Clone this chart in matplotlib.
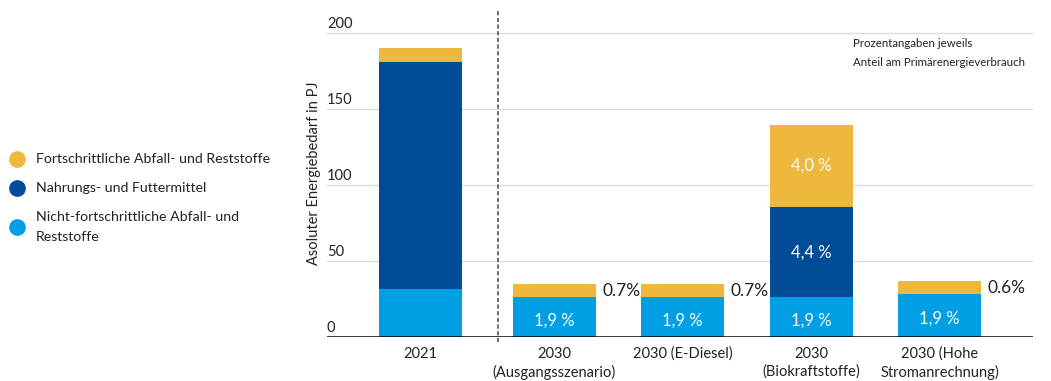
import matplotlib.pyplot as plt
from matplotlib.lines import Line2D
import numpy as np

plt.rcParams['font.family'] = ['Lato', 'DejaVu Sans']

categories = ['2021', '2030\n(Ausgangsszenario)', '2030 (E-Diesel)',
              '2030\n(Biokraftstoffe)', '2030 (Hohe\nStromanrechnung)']
nicht_fortschrittlich = [31.5, 26, 26, 26, 28]
nahrung_futter = [149.5, 0, 0, 59.5, 0]
fortschrittlich = [9, 9, 9, 54, 9]

# share of primary energy, printed on the segments
label_nicht = ['', '1,9 %', '1,9 %', '1,9 %', '1,9 %']
label_nahrung = ['', '', '', '4,4 %', '']
label_fort_inside = ['', '', '', '4,0 %', '']
label_fort_side = ['', '0.7%', '0.7%', '', '0.6%']

yticks = [0, 50, 100, 150, 200]

c_yellow = '#EDB83D'
c_dark = '#004C97'
c_light = '#009FE3'
c_text = '#222222'

fig = plt.figure(figsize=(10.51, 3.81), dpi=100)
ax = fig.add_axes([0.311, 0.1155, 0.672, 0.8585])

# scenario bars sit a little further from the 2021 bar
x = np.arange(len(categories), dtype=float)
x[1:] += 0.04
w = 0.646
b1 = np.array(nicht_fortschrittlich)
b2 = b1 + np.array(nahrung_futter)

ax.bar(x, nicht_fortschrittlich, w, color=c_light, zorder=3)
ax.bar(x, nahrung_futter, w, bottom=b1, color=c_dark, zorder=3)
ax.bar(x, fortschrittlich, w, bottom=b2, color=c_yellow, zorder=3)

for i in range(len(x)):
    if label_nicht[i]:
        ax.text(x[i], b1[i] / 2 - 2, label_nicht[i], ha='center', va='center',
                color='white', fontsize=12)
    if label_nahrung[i]:
        ax.text(x[i], b1[i] + nahrung_futter[i] / 2, label_nahrung[i],
                ha='center', va='center', color='white', fontsize=12)
    if label_fort_inside[i]:
        ax.text(x[i], b2[i] + fortschrittlich[i] / 2, label_fort_inside[i],
                ha='center', va='center', color='white', fontsize=12)
    if label_fort_side[i]:
        ax.text(x[i] + w / 2 + 0.05, b2[i] + fortschrittlich[i] - 4.5,
                label_fort_side[i], ha='left', va='center',
                color=c_text, fontsize=12.5)

ax.set_xlim(-0.728, 4.766)
ax.set_ylim(0, 215)

# gridlines with labels sitting above them on the left
for t in yticks[1:]:
    ax.axhline(t, color='#dddddd', lw=1, zorder=1)
for t in yticks:
    ax.text(-0.728, t + 6, str(t), ha='left', va='center',
            color=c_text, fontsize=10.5)
ax.axhline(0, color='black', lw=1.8, zorder=4)

# separator between actual year and scenarios
ax.plot([0.6, 0.6], [-3.5, 215], ls=(0, (2.5, 1.5)), color='#555555',
        lw=1.2, clip_on=False, zorder=2)

ax.set_yticks([])
ax.set_xticks(x)
ax.set_xticklabels(categories, fontsize=10.5, color=c_text, linespacing=1.35)
ax.tick_params(axis='x', length=0, pad=7)
for s in ax.spines.values():
    s.set_visible(False)

ax.set_ylabel('Asoluter Energiebedarf in PJ', fontsize=10.5, color=c_text,
              labelpad=4)

ax.text(0.745, 0.868, 'Prozentangaben jeweils\nAnteil am Primärenergieverbrauch',
        transform=ax.transAxes, ha='left', va='center', fontsize=8.3,
        color=c_text, linespacing=1.9)

handles = [
    Line2D([], [], marker='o', ls='', color=c_yellow, markersize=11),
    Line2D([], [], marker='o', ls='', color=c_dark, markersize=11),
    Line2D([], [], marker='o', ls='', color=c_light, markersize=11),
]
names = ['Fortschrittliche Abfall- und Reststoffe',
         'Nahrungs- und Futtermittel',
         'Nicht-fortschrittliche Abfall- und\nReststoffe']
fig.legend(handles, names, loc='upper left', bbox_to_anchor=(0.003, 0.612),
           frameon=False, fontsize=10.2, handletextpad=0.7, labelspacing=1.2,
           borderaxespad=0, handlelength=1.2, labelcolor=c_text)
for t in fig.legends[0].get_texts():
    t.set_linespacing(1.75)

fig.savefig('out.png', dpi=100)
